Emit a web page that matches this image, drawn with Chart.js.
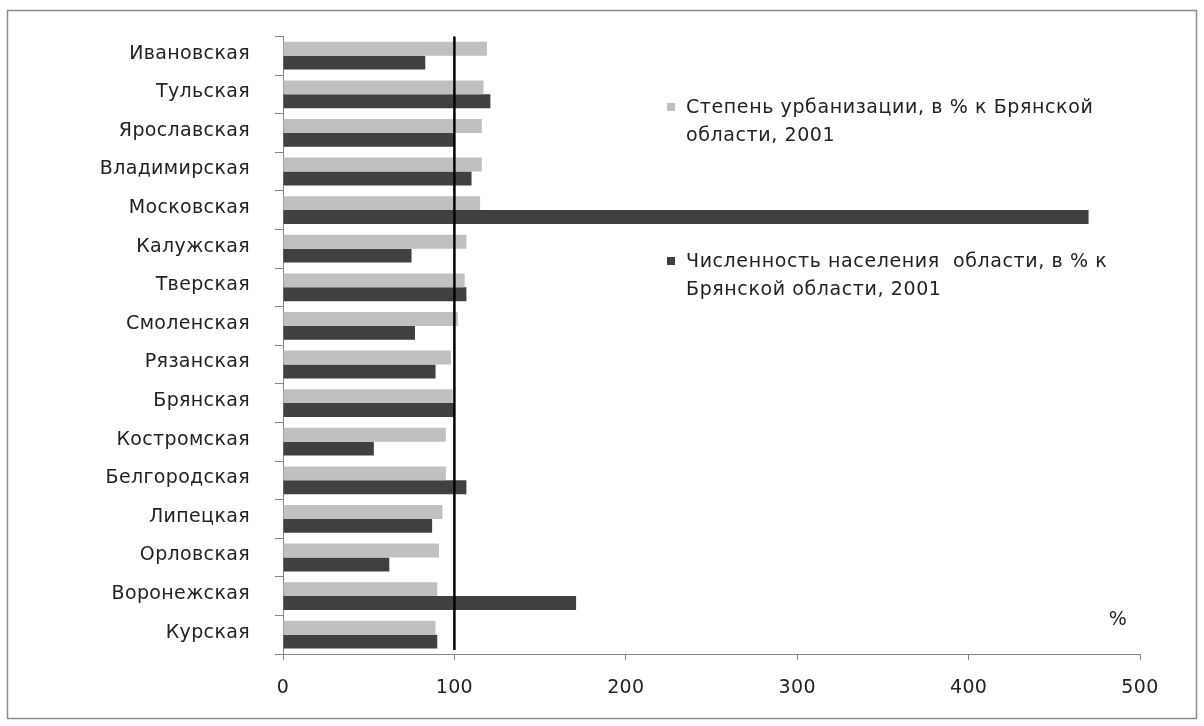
<!DOCTYPE html>
<html>
<head>
<meta charset="utf-8">
<script src="https://cdn.jsdelivr.net/npm/chart.js@4.4.1/dist/chart.umd.min.js"></script>
<style>
    html, body { margin: 0; padding: 0; background: #fff; }
</style>
</head>
<body>
<canvas id="chart" width="1204" height="726"></canvas>
<script>
// --- Data ---
const regions = ['Ивановская', 'Тульская', 'Ярославская', 'Владимирская', 'Московская', 'Калужская',
    'Тверская', 'Смоленская', 'Рязанская', 'Брянская', 'Костромская', 'Белгородская',
    'Липецкая', 'Орловская', 'Воронежская', 'Курская'];
const urbanization = [119, 117, 116, 116, 115, 107, 106, 102, 98, 99, 95, 95, 93, 91, 90, 89];
const population = [83, 121, 100, 110, 470, 75, 107, 77, 89, 100, 53, 107, 87, 62, 171, 90];
const xTicks = [0, 100, 200, 300, 400, 500];
const legendUrban = ['Степень урбанизации, в % к Брянской', 'области, 2001'];
const legendPop = ['Численность населения  области, в % к', 'Брянской области, 2001'];
const baseLevel = 100;

const FONT = '"DejaVu Sans", sans-serif';
const TEXT = '#222';
const AXIS = '#868686';

// frame, reference line at 100, legend and the "%" mark
const decorations = {
    id: 'decorations',
    beforeDraw(chart) {
        const ctx = chart.ctx;
        ctx.save();
        ctx.strokeStyle = '#8c8c8c';
        ctx.lineWidth = 1.5;
        ctx.strokeRect(7.5, 10.5, 1189, 708);
        ctx.restore();
        // the original text is set a bit wider than the font's own spacing
        ctx.letterSpacing = '0.35px';
    },
    afterDatasetsDraw(chart) {
        const ctx = chart.ctx;
        const x = chart.scales.x.getPixelForValue(baseLevel);
        const area = chart.chartArea;
        ctx.save();
        ctx.strokeStyle = '#000';
        ctx.lineWidth = 2.5;
        ctx.beginPath();
        ctx.moveTo(x, area.top);
        ctx.lineTo(x, area.bottom - 4);
        ctx.stroke();

        ctx.font = '19px ' + FONT;
        ctx.letterSpacing = '0.6px';
        ctx.fillStyle = TEXT;
        ctx.textBaseline = 'alphabetic';
        const entries = [
            { lines: legendUrban, color: chart.data.datasets[0].backgroundColor, y: 113 },
            { lines: legendPop, color: chart.data.datasets[1].backgroundColor, y: 267 }
        ];
        entries.forEach(e => {
            ctx.fillStyle = e.color;
            ctx.fillRect(667, e.y - 10, 8, 8);
            ctx.fillStyle = TEXT;
            e.lines.forEach((line, i) => ctx.fillText(line, 686, e.y + i * 28));
        });

        ctx.textAlign = 'center';
        ctx.fillText('%', 1118, 625);
        ctx.restore();
    }
};

new Chart(document.getElementById('chart'), {
    type: 'bar',
    data: {
        labels: regions,
        datasets: [{
            label: legendUrban.join(' '),
            data: urbanization,
            backgroundColor: '#c0c0c0',
            barPercentage: 1,
            categoryPercentage: 0.72
        }, {
            label: legendPop.join(' '),
            data: population,
            backgroundColor: '#404040',
            barPercentage: 1,
            categoryPercentage: 0.72
        }]
    },
    options: {
        indexAxis: 'y',
        responsive: false,
        animation: false,
        layout: { padding: { left: 0, top: 36, right: 64, bottom: 0 } },
        plugins: {
            legend: { display: false },
            tooltip: { enabled: false }
        },
        scales: {
            x: {
                min: 0,
                max: 500,
                afterBuildTicks: scale => { scale.ticks = xTicks.map(v => ({ value: v })); },
                afterFit: scale => { scale.height = 72; },
                grid: { drawOnChartArea: false, tickLength: 6, color: AXIS },
                border: { color: AXIS },
                ticks: { padding: 17, color: TEXT, font: { family: FONT, size: 19 } }
            },
            y: {
                afterFit: scale => { scale.width = 283; },
                grid: { drawOnChartArea: false, tickLength: 8, color: AXIS },
                border: { color: AXIS },
                ticks: { padding: 25, labelOffset: -2, color: TEXT, font: { family: FONT, size: 19 } }
            }
        }
    },
    plugins: [decorations]
});
</script>
</body>
</html>
